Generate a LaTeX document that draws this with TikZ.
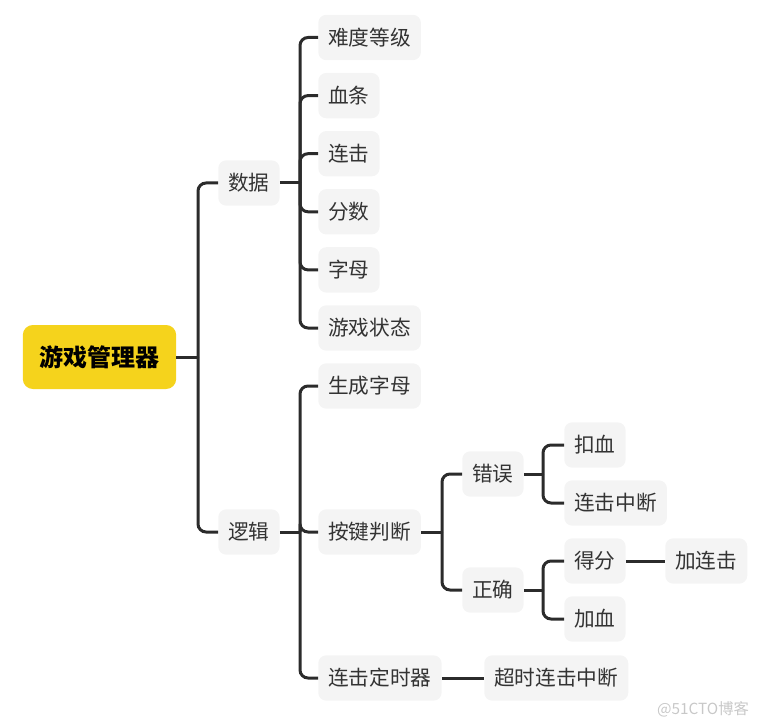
\documentclass[tikz,border=0pt]{standalone}
\usepackage{fontspec}
\newfontfamily\cjk{Noto Sans CJK SC}
\definecolor{rootyellow}{HTML}{F5D31C}
\definecolor{leafgray}{HTML}{F4F4F4}
\definecolor{linkdark}{HTML}{2B2B2B}
\definecolor{textdark}{HTML}{333333}
\definecolor{markgray}{HTML}{C8C8C8}
\begin{document}
\begin{tikzpicture}[x=0.75pt,y=-0.75pt,
	leaf/.style={anchor=west,fill=leafgray,rounded corners=6pt,text=textdark,font=\cjk\fontsize{15.5}{18}\selectfont,inner xsep=7.5pt,inner ysep=0pt,minimum height=34pt},
	link/.style={draw=linkdark,line width=2.25pt,rounded corners=6pt}]

\useasboundingbox (0,0) rectangle (767,727);

\node (root) [fill=rootyellow,rounded corners=7.5pt,text=black,font=\cjk\bfseries\fontsize{18}{22}\selectfont,inner xsep=12.5pt,minimum height=48pt] at (99.5,357) {游戏管理器};
\coordinate (t_root) at (198,357);
\draw [link] (root.east) -- (t_root);

\node (A_data) [leaf] at (218,183) {数据};
\draw [link] (t_root) |- (A_data.west);

\node (A_logic) [leaf] at (218,532) {逻辑};
\draw [link] (t_root) |- (A_logic.west);

\coordinate (t_data) at (300,183);
\draw [link] (A_data.east) -- (t_data);

\node (B_level) [leaf] at (318,37.5) {难度等级};
\draw [link] (t_data) |- (B_level.west);

\node (B_hp) [leaf] at (318,95.6) {血条};
\draw [link] (t_data) |- (B_hp.west);

\node (B_combo) [leaf] at (318,153.7) {连击};
\draw [link] (t_data) |- (B_combo.west);

\node (B_score) [leaf] at (318,211.8) {分数};
\draw [link] (t_data) |- (B_score.west);

\node (B_letter) [leaf] at (318,269.9) {字母};
\draw [link] (t_data) |- (B_letter.west);

\node (B_state) [leaf] at (318,328) {游戏状态};
\draw [link] (t_data) |- (B_state.west);

\coordinate (t_logic) at (300,532);
\draw [link] (A_logic.east) -- (t_logic);

\node (B_gen) [leaf] at (318,386) {生成字母};
\draw [link] (t_logic) |- (B_gen.west);

\node (B_key) [leaf] at (318,532) {按键判断};
\draw [link] (t_logic) |- (B_key.west);

\node (B_timer) [leaf] at (318,678) {连击定时器};
\draw [link] (t_logic) |- (B_timer.west);

\coordinate (t_key) at (442,532);
\draw [link] (B_key.east) -- (t_key);

\node (C_wrong) [leaf] at (462,474) {错误};
\draw [link] (t_key) |- (C_wrong.west);

\node (C_right) [leaf] at (462,590) {正确};
\draw [link] (t_key) |- (C_right.west);

\node (C_timeout) [leaf] at (484,678) {超时连击中断};
\draw [link] (B_timer.east) -- (C_timeout.west);

\coordinate (t_wrong) at (543,474);
\draw [link] (C_wrong.east) -- (t_wrong);

\node (D_hurt) [leaf] at (564,445) {扣血};
\draw [link] (t_wrong) |- (D_hurt.west);

\node (D_break) [leaf] at (564,503) {连击中断};
\draw [link] (t_wrong) |- (D_break.west);

\coordinate (t_right) at (543,590);
\draw [link] (C_right.east) -- (t_right);

\node (D_score) [leaf] at (564,561) {得分};
\draw [link] (t_right) |- (D_score.west);

\node (D_heal) [leaf] at (564,619) {加血};
\draw [link] (t_right) |- (D_heal.west);

\node (E_combo) [leaf] at (665,561) {加连击};
\draw [link] (D_score.east) -- (E_combo.west);

\node (mark) [text=markgray,font=\cjk\fontsize{11.5}{14}\selectfont] at (703,709) {@51CTO博客};

\end{tikzpicture}
\end{document}
